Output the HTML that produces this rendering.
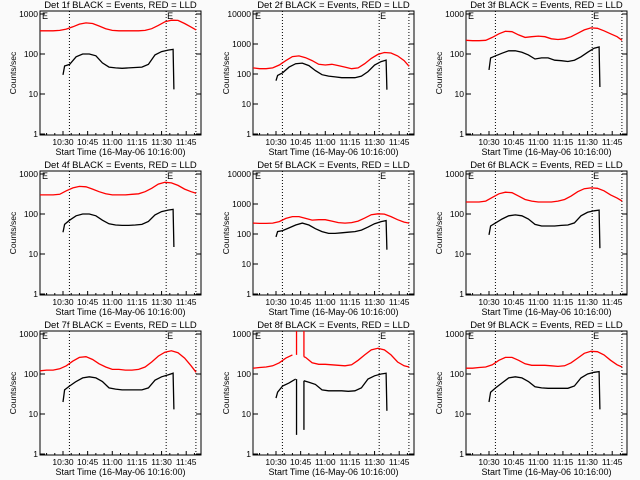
<!DOCTYPE html>
<html><head><meta charset="utf-8"><style>
html,body{margin:0;padding:0;background:#fafafa;}
svg{display:block;font-family:"Liberation Sans",sans-serif;}
</style></head>
<body>
<svg id="chart" width="640" height="480" viewBox="0 0 640 480" xmlns="http://www.w3.org/2000/svg">
<rect x="0" y="0" width="640" height="480" fill="#fafafa"/>
</svg>
<script>
// Time axis in minutes after 10:00
const redTimes = [16,20,24,28,32,36,40,44,48,52,56,60,64,68,72,76,80,84,88,92,96,100,104,108,111];
const blackTimes = [30,31,34,38,42,46,50,54,58,62,66,70,74,78,82,86,90,94,97];
const xTickLabels = ["10:30","10:45","11:00","11:15","11:30","11:45"];
const xTickMinutes = [30,45,60,75,90,105];
const dottedMinutes = [33.9,92.8,110.9];
const detectorNames = ["1f","2f","3f","4f","5f","6f","7f","8f","9f"];
const dateLabels = ["16-May-06","16-May-06","16-May-06","16-May-06","16-May-06","16-May-06","16-May-06","16-May-06","16-May-06"];
const yDecades = [3,4,3,3,4,3,3,3,3];
const redSeries = [
 [380,380,380,390,420,480,560,600,580,500,430,390,380,380,380,380,390,430,520,640,700,690,580,470,400],
 [160,150,150,160,200,280,380,400,350,280,210,200,210,190,170,150,160,220,330,450,520,500,400,280,180],
 [220,215,215,220,260,320,370,360,300,260,270,280,270,240,230,240,270,330,400,450,440,380,320,270,220],
 [300,300,300,310,380,450,490,480,420,360,320,300,300,300,310,320,360,440,560,620,600,520,420,360,330],
 [230,225,225,230,260,330,380,380,330,290,300,300,270,240,230,240,270,340,440,470,460,380,300,250,230],
 [200,200,200,210,260,320,350,340,280,230,210,200,200,200,210,230,280,360,430,450,440,380,300,250,210],
 [120,125,125,135,160,210,260,270,230,180,150,130,130,125,125,130,150,200,280,350,380,340,250,160,110],
 [140,145,150,160,190,250,300,300,260,190,175,175,170,165,160,170,220,300,400,440,400,300,200,160,150],
 [140,140,145,150,170,220,260,260,220,180,165,165,165,160,155,160,190,250,330,370,360,300,220,170,150]
];
const blackSeries = [
 [30,50,55,85,100,100,90,60,47,45,44,45,46,47,55,95,115,125,130],
 [60,90,110,170,220,230,190,130,95,85,80,75,75,75,85,120,200,260,290],
 [40,80,90,105,120,120,110,95,75,80,80,70,68,65,70,85,110,140,150],
 [35,55,70,90,100,100,90,70,57,53,52,52,53,55,65,95,115,125,130],
 [80,120,130,160,200,230,200,150,120,105,105,110,115,120,135,170,220,260,280],
 [30,50,60,75,90,95,90,75,55,50,50,50,52,53,60,90,110,120,125],
 [20,40,50,65,80,85,80,65,45,42,40,40,40,40,45,70,85,95,105],
 [25,35,50,60,75,70,62,55,40,38,38,38,37,38,45,75,90,100,105],
 [20,35,45,60,80,85,80,65,48,45,44,44,44,44,50,80,100,110,115]
];
const blackDrop = [13,30,15,15,30,14,13,12,13];
// glitch intervals (start minute, end minute, black minimum values) per panel; null = none
const glitchStart = [null,null,null,null,null,null,null,42.5,null];
const glitchEnd = [null,null,null,null,null,null,null,47,null];
const glitchBlackMinA = [null,null,null,null,null,null,null,3,null];
const glitchBlackMinB = [null,null,null,null,null,null,null,4,null];

const svg = document.getElementById('chart');
const NS = "http://www.w3.org/2000/svg";
function mk(tag, attrs, parent){
  const e = document.createElementNS(NS, tag);
  for (const k in attrs) e.setAttribute(k, attrs[k]);
  (parent||svg).appendChild(e);
  return e;
}
function interp(ts, vs, t){
  for (let i=0;i<ts.length-1;i++){
    if (t>=ts[i] && t<=ts[i+1]){
      const f=(t-ts[i])/(ts[i+1]-ts[i]);
      return Math.pow(10, Math.log10(vs[i])*(1-f)+Math.log10(vs[i+1])*f);
    }
  }
  return vs[vs.length-1];
}

for (let p=0;p<9;p++){
  const ox = (p%3)*213, oy = Math.floor(p/3)*160;
  const L = ox+40, R = ox+201, T = oy+11, B = oy+135;
  const dec = yDecades[p];
  const ybot = oy+134, ytop = oy+14;
  const X = m => L + (m-16)*(R-L)/98;
  const Y = v => ybot - Math.log10(v)*(ybot-ytop)/dec;
  const g = mk('g', {});
  
  
  const clipId = 'clip'+p;
  const cp = mk('clipPath', {id:clipId}, g);
  mk('rect', {x:L, y:T, width:R-L, height:B-T}, cp);

  const title = mk('text', {x:(L+R)/2, y:oy+8, 'text-anchor':'middle', 'font-size':'9.5', fill:'#000'}, g);
  title.textContent = 'Det '+detectorNames[p]+' BLACK = Events, RED = LLD';
  
  

  const frame = mk('rect', {x:L, y:T, width:R-L, height:B-T, fill:'none', stroke:'#000', 'stroke-width':1}, g);
  
  

  // y ticks
  for (let d=0; d<=dec; d++){
    const v = Math.pow(10,d), y = Y(v);
    mk('line', {x1:L, x2:L+5, y1:y, y2:y, stroke:'#000', 'stroke-width':1}, g);
    mk('line', {x1:R-5, x2:R, y1:y, y2:y, stroke:'#000', 'stroke-width':1}, g);
    const tl = mk('text', {x:L-2, y:y+3, 'text-anchor':'end', 'font-size':'8.5', fill:'#000'}, g);
    tl.textContent = String(v);
    
    
  }
  // x ticks
  for (let m=20; m<=110; m+=5){
    const major = (m%15===0);
    mk('line', {x1:X(m), x2:X(m), y1:B, y2:B-(major?4:2), stroke:'#000', 'stroke-width':1}, g);
  }
  for (let i=0;i<xTickLabels.length;i++){
    const tl = mk('text', {x:X(xTickMinutes[i]), y:oy+145, 'text-anchor':'middle', 'font-size':'8.5', fill:'#000'}, g);
    tl.textContent = xTickLabels[i];
    
    
  }
  const xl = mk('text', {x:(L+R)/2, y:oy+155, 'text-anchor':'middle', 'font-size':'9', fill:'#000'}, g);
  xl.textContent = 'Start Time ('+dateLabels[p]+' 10:16:00)';
  
  
  const yl = mk('text', {x:0, y:0, 'text-anchor':'middle', 'font-size':'8.5', fill:'#000', transform:'translate('+(ox+16)+','+(oy+73)+') rotate(-90)'}, g);
  yl.textContent = 'Counts/sec';
  
  

  // dotted lines
  for (const m of dottedMinutes){
    const dl = mk('line', {x1:X(m), x2:X(m), y1:T, y2:B, stroke:'#000', 'stroke-width':1, 'stroke-dasharray':'1,2'}, g);
    
    
  }
  // E markers
  for (const xm of [L+2, X(dottedMinutes[1])+1]){
    const e = mk('text', {x:xm, y:T+8, 'font-size':'9', fill:'#000'}, g);
    e.textContent = 'E';
    
    
  }

  const gs = glitchStart[p], ge = glitchEnd[p];
  function buildPath(ts, vs, tail){
    let d = '', pen = false;
    for (let i=0;i<ts.length;i++){
      const t = ts[i];
      if (gs!==null && t>gs && t<ge){ pen=false; continue; }
      if (gs!==null && i>0 && ts[i-1]<gs && t>gs){
        // end segment at glitch start
        d += 'L'+X(gs).toFixed(1)+' '+Y(interp(ts,vs,gs)).toFixed(1);
        pen=false;
        if (t<ge) continue;
      }
      if (gs!==null && i>0 && ts[i-1]<ge && t>ge && !pen){
        d += 'M'+X(ge).toFixed(1)+' '+Y(interp(ts,vs,ge)).toFixed(1);
        pen=true;
      }
      d += (pen?'L':'M')+X(t).toFixed(1)+' '+Y(vs[i]).toFixed(1);
      pen = true;
    }
    if (tail) d += tail;
    return d;
  }
  const red = mk('path', {d:buildPath(redTimes, redSeries[p]), fill:'none', stroke:'#ff0000', 'stroke-width':1.3, 'clip-path':'url(#'+clipId+')'}, g);
  
  
  const lastT = blackTimes[blackTimes.length-1];
  const tail = 'L'+(X(lastT)+0.8).toFixed(1)+' '+Y(blackDrop[p]).toFixed(1);
  const blk = mk('path', {d:buildPath(blackTimes, blackSeries[p], tail), fill:'none', stroke:'#000', 'stroke-width':1.3, 'clip-path':'url(#'+clipId+')'}, g);
  
  
  if (gs!==null){
    const ga = mk('path', {d:'M'+X(gs)+' '+Y(interp(blackTimes,blackSeries[p],gs))+'L'+X(gs)+' '+Y(glitchBlackMinA[p])+
      'M'+X(ge)+' '+Y(interp(blackTimes,blackSeries[p],ge))+'L'+X(ge)+' '+Y(glitchBlackMinB[p]), fill:'none', stroke:'#000', 'stroke-width':1.3}, g);
    
    
    const gr = mk('path', {d:'M'+X(gs)+' '+Y(interp(redTimes,redSeries[p],gs))+'L'+X(gs)+' '+T+
      'M'+X(ge)+' '+Y(interp(redTimes,redSeries[p],ge))+'L'+X(ge)+' '+T, fill:'none', stroke:'#ff0000', 'stroke-width':1.3}, g);
    
    
  }
}
</script>
</body></html>
